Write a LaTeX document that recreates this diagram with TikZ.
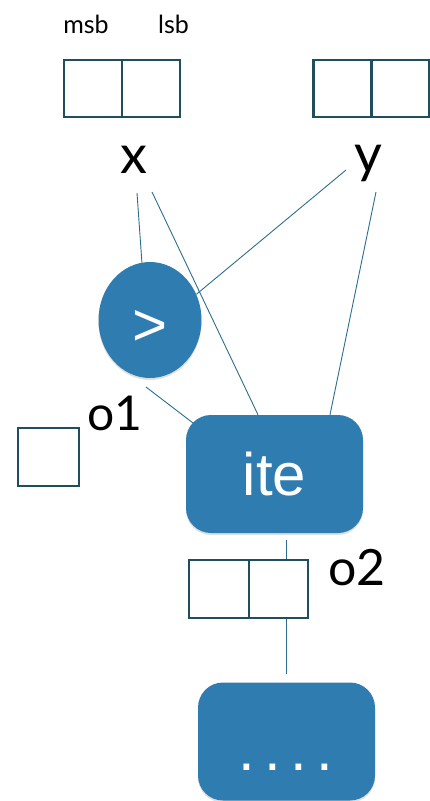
\documentclass[tikz,border=0pt]{standalone}
\usepackage{fontspec}
\setmainfont{Lato}
\newfontfamily\helv{Liberation Sans}
\usetikzlibrary{shapes.geometric,shadows}
\definecolor{nodeblue}{RGB}{47,125,176}
\definecolor{cellline}{RGB}{31,78,95}
\definecolor{wirecol}{RGB}{45,110,140}
\begin{document}
\begin{tikzpicture}[x=1pt,y=-1pt,
  cell/.style={draw=cellline,line width=2.4pt,minimum width=58pt,minimum height=57pt,inner sep=0pt},
  opnode/.style={fill=nodeblue,text=white,rounded corners=25pt,minimum width=177pt,minimum height=118pt,inner sep=0pt,
    drop shadow={opacity=0.25,shadow xshift=0pt,shadow yshift=-2pt}},
  wire/.style={draw=wirecol,line width=0.9pt},
  lbl/.style={anchor=base,inner sep=0pt}]
\useasboundingbox (0,0) rectangle (430,801);
% top labels
\node[lbl,font=\fontsize{25}{25}\selectfont] (msb) at (86,33) {msb};
\node[lbl,font=\fontsize{25}{25}\selectfont] (lsb) at (173.5,33) {lsb};
% bit cells
\node[cell] (xa) at (93,88.5) {};
\node[cell] (xb) at (151,88.5) {};
\node[cell] (ya) at (342.5,88.5) {};
\node[cell] (yb) at (400,88.5) {};
% variable labels
\node[lbl,font=\fontsize{54}{54}\selectfont] (xl) at (134,173) {x};
\node[lbl,font=\fontsize{54}{54}\selectfont] (yl) at (368,172) {y};
% comparison
\node[ellipse,fill=nodeblue,text=white,minimum width=103pt,minimum height=116pt,inner sep=0pt,
  drop shadow={opacity=0.25,shadow xshift=0pt,shadow yshift=-2pt},text height=50pt,text depth=0pt,
  font=\helv\fontsize{60}{60}\selectfont] (gt) at (150,320) {>};
% o1
\node[lbl,font=\fontsize{48}{48}\selectfont] (o1l) at (115,430) {o1};
\node[cell,minimum width=61pt,minimum height=58pt] (o1b) at (48.5,457) {};
% ite
\node[opnode,font=\helv\fontsize{60}{60}\selectfont] (ite) at (274.5,474) {ite};
% o2
\node[cell,minimum width=60pt,minimum height=58pt] (o2a) at (219,589) {};
\node[cell,minimum width=59pt,minimum height=58pt] (o2b) at (278.5,589) {};
\node[lbl,font=\fontsize{50}{50}\selectfont] (o2l) at (357,585) {o2};
% bottom node
\node[opnode] (bot) at (286.5,741.5) {};
\node[lbl,text=white,font=\helv\fontsize{60}{60}\selectfont] (dots) at (286,770)
  {.\hspace{9.3pt}.\hspace{9.3pt}.\hspace{9.3pt}.};
% wires
\coordinate (xw1) at (137,193);
\coordinate (xw2) at (152,192);
\coordinate (yw1) at (346,170);
\coordinate (yw2) at (376,192);
\coordinate (gw) at (146,387);
\coordinate (ic) at (193,423);
\draw[wire] (xw1) -- (gt.98);
\draw[wire] (xw2) -- ([xshift=-16.5pt]ite.north);
\draw[wire] (yw1) -- (gt.29);
\draw[wire] (yw2) -- ([xshift=55.5pt]ite.north);
\draw[wire] (gw) -- (ic);
\draw[wire,shorten <=7pt] (ite.south -| bot.north) -- (o2b.north -| bot.north);
\draw[wire,shorten >=8pt] (o2b.south -| bot.north) -- (bot.north);
\end{tikzpicture}
\end{document}
